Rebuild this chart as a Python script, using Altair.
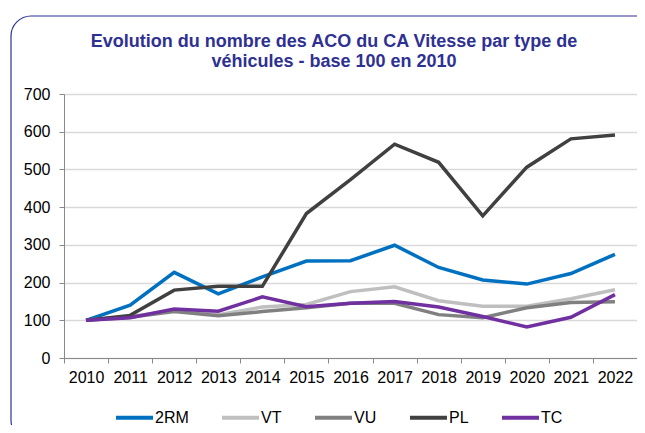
import altair as alt
import pandas as pd

years = [str(y) for y in range(2010, 2023)]
series_names = ["2RM", "VT", "VU", "PL", "TC"]
colors = ["#0070C0", "#BFBFBF", "#808080", "#404040", "#7030A0"]

v_2rm = [100, 140, 227, 170, 215, 257, 258, 299, 240, 207, 196, 224, 275]
v_vt = [100, 110, 125, 115, 135, 142, 176, 189, 152, 137, 137, 157, 181]
v_vu = [100, 108, 123, 112, 123, 133, 145, 145, 115, 107, 133, 147, 149]
v_pl = [100, 113, 180, 190, 190, 383, 473, 567, 519, 377, 506, 581, 591]
v_tc = [100, 107, 130, 124, 162, 136, 145, 150, 135, 110, 82, 108, 168]

series_values = [v_2rm, v_vt, v_vu, v_pl, v_tc]

title_lines = ["Evolution du nombre des ACO du CA Vitesse par type de",
               "véhicules - base 100 en 2010"]

rows = []
for name, vals in zip(series_names, series_values):
    for y, v in zip(years, vals):
        rows.append({"Année": y, "Valeur": v, "Type": name})
df = pd.DataFrame(rows)

FONT = "Liberation Sans"
TITLE_COLOR = "#2E3192"
FS = 16

lines = alt.Chart(df).mark_line(strokeWidth=3.5, strokeJoin="miter").encode(
    x=alt.X("Année:O", bandPosition=0.5,
            scale=alt.Scale(type="band", paddingInner=0, paddingOuter=0),
            axis=alt.Axis(title=None, labelAngle=0, tickBand="extent", grid=False,
                          labelFontSize=FS, labelFont=FONT, labelColor="#000000",
                          domainColor="#898989", tickColor="#898989", tickSize=5,
                          labelPadding=6)),
    y=alt.Y("Valeur:Q", scale=alt.Scale(domain=[0, 700], nice=False),
            axis=alt.Axis(title=None, values=[0, 100, 200, 300, 400, 500, 600, 700],
                          grid=True, gridColor="#D9D9D9", gridWidth=1.3,
                          labelFontSize=FS, labelFont=FONT, labelColor="#000000",
                          domainColor="#898989", tickColor="#898989", tickSize=5,
                          labelPadding=9)),
    color=alt.Color("Type:N", sort=series_names,
                    scale=alt.Scale(domain=series_names, range=colors),
                    legend=alt.Legend(title=None, orient="none", direction="horizontal",
                                      legendX=50, legendY=303,
                                      symbolType="stroke", symbolSize=1369,
                                      symbolStrokeWidth=4, symbolOpacity=1,
                                      labelFontSize=FS, labelFont=FONT,
                                      labelColor="#000000", labelOffset=0,
                                      columnPadding=25)),
    order=alt.Order("Type:N"),
)

frame = alt.Chart(pd.DataFrame({"f": [0]})).mark_rect(
    fill=None, stroke=TITLE_COLOR, strokeWidth=1.2, cornerRadius=20
).encode(
    x=alt.value(-53), x2=alt.value(600), y=alt.value(-78), y2=alt.value(346)
)

title1 = alt.Chart(pd.DataFrame({"t": [title_lines[0]]})).mark_text(
    font=FONT, fontSize=18, fontWeight="bold", color=TITLE_COLOR,
    align="center", baseline="middle"
).encode(text="t:N", x=alt.value(270), y=alt.value(-52))

title2 = alt.Chart(pd.DataFrame({"t": [title_lines[1]]})).mark_text(
    font=FONT, fontSize=18, fontWeight="bold", color=TITLE_COLOR,
    align="center", baseline="middle"
).encode(text="t:N", x=alt.value(270), y=alt.value(-32))

chart = alt.layer(frame, title1, title2, lines).properties(
    width=573,
    height=264,
    padding={"left": 56, "top": 86, "right": 0, "bottom": 67},
    autosize=alt.AutoSizeParams(type="none"),
).configure_view(stroke="#898989", strokeWidth=1).configure(background="white")

chart.save("out.html", embed_options={"renderer": "svg", "actions": False})
